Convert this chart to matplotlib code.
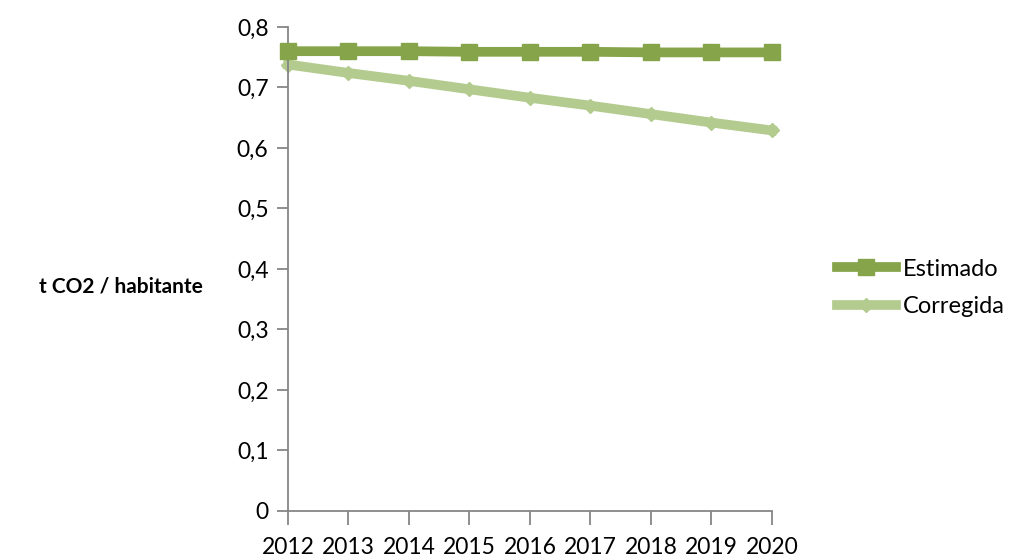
import matplotlib.pyplot as plt

plt.rcParams['font.family'] = ['Lato', 'DejaVu Sans']

years = [2012, 2013, 2014, 2015, 2016, 2017, 2018, 2019, 2020]
estimado = [0.760, 0.760, 0.760, 0.759, 0.759, 0.759, 0.758, 0.758, 0.758]
corregida = [0.738, 0.724, 0.711, 0.697, 0.683, 0.670, 0.656, 0.642, 0.629]
yticks = [0, 0.1, 0.2, 0.3, 0.4, 0.5, 0.6, 0.7, 0.8]
ytick_labels = ['0', '0,1', '0,2', '0,3', '0,4', '0,5', '0,6', '0,7', '0,8']

fig = plt.figure(figsize=(10.09, 5.59), dpi=100)
ax = fig.add_axes([0.2854, 0.0859, 0.4797, 0.8658])

ax.plot(years, estimado, color='#86A44A', linewidth=7, marker='s', markersize=11.5,
        label='Estimado', clip_on=False, zorder=3)
ax.plot(years, corregida, color='#B3CB8F', linewidth=7, marker='D', markersize=7,
        label='Corregida', clip_on=False, zorder=2)

ax.set_xlim(2012, 2020)
ax.set_ylim(0, 0.8)
ax.set_xticks(years)
ax.set_xticklabels([str(y) for y in years])
ax.set_yticks(yticks)
ax.set_yticklabels(ytick_labels)

for s in ['top', 'right']:
    ax.spines[s].set_visible(False)
for s in ['left', 'bottom']:
    ax.spines[s].set_color('#868686')
    ax.spines[s].set_linewidth(1.3)
ax.tick_params(axis='both', colors='#868686', width=1.3, labelcolor='black', labelsize=16.5)
ax.tick_params(axis='y', length=8, pad=6)
ax.tick_params(axis='x', length=10, pad=9)

fig.text(0.120, 0.487, 't CO2 / habitante', fontsize=15, fontweight='bold',
         ha='center', va='center')

ax.legend(loc='center left', bbox_to_anchor=(0.8295, 0.485), bbox_transform=fig.transFigure,
          frameon=False, fontsize=17, handlelength=2.5, labelspacing=0.7, handletextpad=0.3,
          borderpad=0, borderaxespad=0)

fig.savefig('out.png', dpi=100)
